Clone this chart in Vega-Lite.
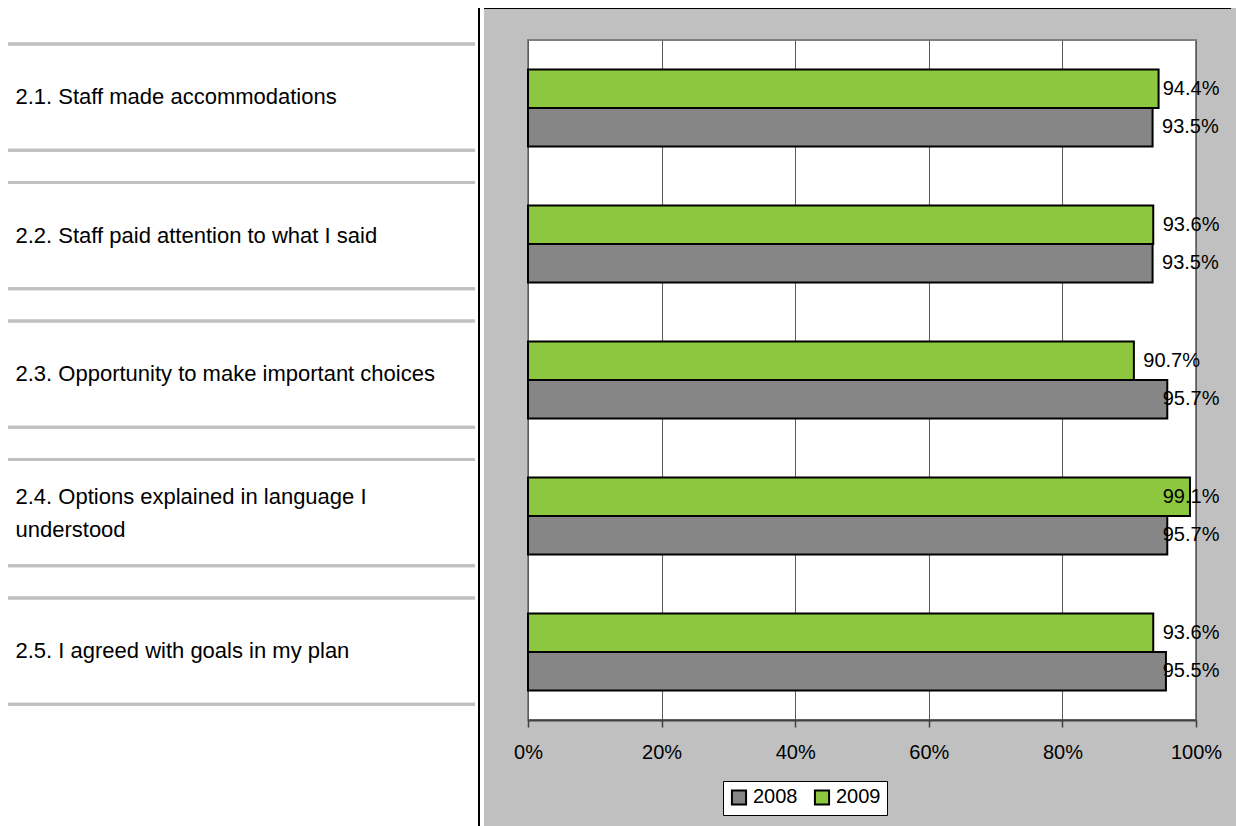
{
  "$schema": "https://vega.github.io/schema/vega-lite/v6.json",
  "background": "#c0c0c0",
  "padding": 0,
  "spacing": 0,
  "bounds": "flush",
  "datasets": {
    "bars": [
      {"item": "2.1. Staff made accommodations", "year": "2008", "value": 0.935},
      {"item": "2.1. Staff made accommodations", "year": "2009", "value": 0.944},
      {"item": "2.2. Staff paid attention to what I said", "year": "2008", "value": 0.935},
      {"item": "2.2. Staff paid attention to what I said", "year": "2009", "value": 0.936},
      {"item": "2.3. Opportunity to make important choices", "year": "2008", "value": 0.957},
      {"item": "2.3. Opportunity to make important choices", "year": "2009", "value": 0.907},
      {"item": "2.4. Options explained in language I understood", "year": "2008", "value": 0.957},
      {"item": "2.4. Options explained in language I understood", "year": "2009", "value": 0.991},
      {"item": "2.5. I agreed with goals in my plan", "year": "2008", "value": 0.955},
      {"item": "2.5. I agreed with goals in my plan", "year": "2009", "value": 0.936}
    ],
    "empty": []
  },
  "vconcat": [
    {"width": 1236, "height": 8, "data": {"name": "empty"}, "mark": "point", "view": {"fill": "white", "stroke": null}},
    {
      "spacing": 0,
      "bounds": "flush",
      "hconcat": [
        {"width": 8, "height": 818, "data": {"name": "empty"}, "mark": "point", "view": {"fill": "white", "stroke": null}},
        {
          "width": 467,
          "height": 818,
          "data": {"name": "bars"},
          "view": {"fill": "white", "stroke": null},
          "layer": [
            {
              "mark": {"type": "rule", "color": "#c0c0c0", "strokeWidth": 3},
              "encoding": {
                "y": {
                  "field": "item", "type": "nominal", "sort": null, "bandPosition": 0,
                  "scale": {"paddingInner": 0.2332, "paddingOuter": 0.5697, "align": 0.228},
                  "axis": {
                    "title": null, "domain": false, "ticks": false, "tickSize": 0,
                    "labelAlign": "left", "labelPadding": -7, "labelLimit": 0,
                    "labelFont": "Liberation Sans", "labelFontSize": 22,
                    "labelColor": "black", "labelLineHeight": 33,
                    "labelOffset": {"condition": {"test": "datum.value == '2.4. Options explained in language I understood'", "value": -16}, "value": 0},
                    "labelExpr": "datum.value == '2.4. Options explained in language I understood' ? ['2.4. Options explained in language I', 'understood'] : datum.label"
                  }
                }
              }
            },
            {
              "mark": {"type": "rule", "color": "#c0c0c0", "strokeWidth": 3},
              "encoding": {
                "y": {"field": "item", "type": "nominal", "sort": null, "bandPosition": 1}
              }
            }
          ]
        },
        {"width": 3, "height": 818, "data": {"name": "empty"}, "mark": "point", "view": {"fill": "white", "stroke": null}},
        {"width": 1, "height": 818, "data": {"name": "empty"}, "mark": "point", "view": {"fill": "black", "stroke": null}},
        {
          "spacing": 0,
          "bounds": "flush",
          "vconcat": [
            {"width": 752, "height": 1, "data": {"name": "empty"}, "mark": "point", "view": {"fill": "black", "stroke": null}},
            {
              "spacing": 48,
              "bounds": "flush",
              "hconcat": [
                {"width": 1, "height": 1, "data": {"name": "empty"}, "mark": "point", "view": {"stroke": null}},
                {
                  "spacing": 30,
                  "bounds": "flush",
                  "vconcat": [
                    {"width": 668, "height": 1, "data": {"name": "empty"}, "mark": "point", "view": {"stroke": null}},
                    {
                      "width": 668,
                      "height": 680,
                      "data": {"name": "bars"},
                      "view": {"fill": "white", "stroke": "#808080", "strokeWidth": 2},
                      "resolve": {"scale": {"x": "independent"}},
                      "layer": [
                        {
                          "mark": {"type": "bar", "stroke": "black", "strokeWidth": 2},
                          "encoding": {
                            "y": {"field": "item", "type": "nominal", "sort": null, "scale": {"paddingInner": 0.434, "paddingOuter": 0.217}, "axis": null},
                            "yOffset": {"field": "year", "type": "nominal", "sort": ["2009", "2008"]},
                            "x": {
                              "field": "value", "type": "quantitative",
                              "scale": {"domain": [0, 1], "nice": false},
                              "axis": {
                                "title": null, "format": ".0%", "values": [0, 0.2, 0.4, 0.6, 0.8, 1],
                                "grid": true, "gridColor": "#5a5a5a", "gridWidth": 1, "gridOpacity": 1,
                                "domainColor": "#404040", "domainWidth": 2,
                                "tickColor": "#404040", "tickSize": 7, "tickWidth": 1.5,
                                "labelFont": "Liberation Sans", "labelFontSize": 20, "labelColor": "black",
                                "labelPadding": 15, "labelFlush": false, "labelOverlap": false
                              }
                            },
                            "color": {
                              "field": "year", "type": "nominal",
                              "scale": {"domain": ["2008", "2009"], "range": ["#868686", "#8dc63f"]},
                              "legend": {
                                "orient": "none", "legendX": 723, "legendY": 781, "direction": "horizontal",
                                "title": null, "fillColor": "white", "strokeColor": "black", "padding": 6,
                                "symbolType": "square", "symbolSize": 200, "symbolStrokeColor": "black", "symbolStrokeWidth": 2,
                                "labelFont": "Liberation Sans", "labelFontSize": 20, "labelColor": "black",
                                "labelOffset": 4, "columnPadding": 12
                              }
                            }
                          }
                        },
                        {
                          "mark": {"type": "text", "align": "left", "baseline": "middle", "dx": 9, "font": "Liberation Sans", "fontSize": 20, "color": "black"},
                          "encoding": {
                            "y": {"field": "item", "type": "nominal", "sort": null},
                            "yOffset": {"field": "year", "type": "nominal", "sort": ["2009", "2008"]},
                            "x": {"field": "value", "type": "quantitative", "scale": {"domain": [0, 0.936], "range": [0, 625.7], "clamp": true, "nice": false, "zero": false}, "axis": null},
                            "text": {"field": "value", "type": "quantitative", "format": ".1%"}
                          }
                        }
                      ]
                    }
                  ]
                }
              ]
            }
          ]
        },
        {"width": 1, "height": 818, "data": {"name": "empty"}, "mark": "point", "view": {"fill": "black", "stroke": null}},
        {"width": 4, "height": 818, "data": {"name": "empty"}, "mark": "point", "view": {"fill": "white", "stroke": null}}
      ]
    }
  ]
}
